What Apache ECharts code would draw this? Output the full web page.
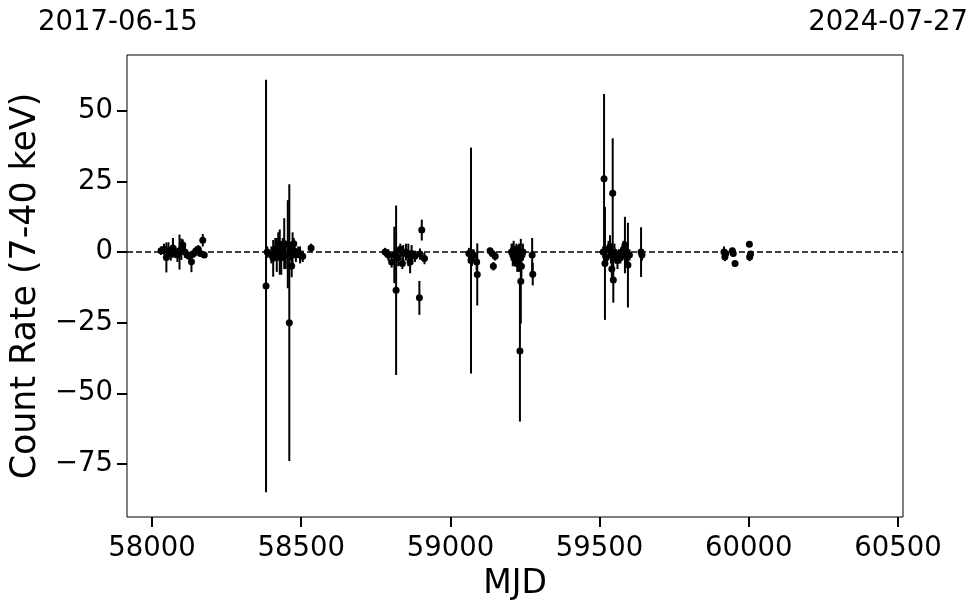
<!DOCTYPE html>
<html>
<head>
<meta charset="utf-8">
<script src="https://cdn.jsdelivr.net/npm/echarts@6/dist/echarts.min.js"></script>
<style>html,body{margin:0;padding:0;background:#fff}#c{width:980px;height:613px}</style>
</head>
<body>
<div id="c"></div>
<script>
// MJD of each observation
const mjd = [
  58030,58040,58048,58055,58063,58070,58078,58085,58092,58098,58103,58110,58118,58126,58132,58140,58147,58155,58162,58170,58175,
  58382,58386,58400,58406,58413,58418,58423,58428,58433,58438,58443,58448,58455,58460,58464,58468,58471,58475,58482,58490,58496,58505,58533,
  58781,58792,58803,58812,58818,58825,58832,58839,58842,58851,58859,58865,58870,58881,58896,58898,58904,58913,
  59062,59069,59072,59078,59088,59090,59133,59140,59144,59150,59205,59209,59212,59215,59218,59221,59224,59227,59230,59233,59236,59238,59240,59243,59274,59276,
  59512,59515,59518,59522,59530,59535,59538,59541,59544,59546,59550,59555,59560,59565,59570,59575,59580,59585,59590,59595,59600,59639,59642,
  59917,59920,59923,59945,59948,59954,60002,60003,60006
];
// count rate (7-40 keV)
const rate = [
  0.5,1.0,-1.9,0.5,-0.5,1.5,0,-1.0,0,1.0,2.5,0,-1,-1.5,-3.4,-0.5,0.5,1.0,-0.5,4.2,-1,
  -12,0,-1,-2.2,1,-1,2,0,-2,1,3,-1,2.8,-25,0,-4.9,1,3,-1,0,-1,-1.5,1.5,
  0,-1,-3.5,-1,-13.5,-2,1,-4,-0.5,0,-1,-3.5,-0.5,-1.5,-16.2,-0.7,7.8,-2.3,
  -0.5,-3,-2,-1,-3.5,-7.9,0.5,-0.5,-5,-1.5,0,-1,1,-2,-3,-1,-4,0.5,-2,-35,-10.3,-5,-1,0,-1,-7.8,
  0,26,-4,-2,1,2,-1,-6,20.8,-9.9,0,-2,-3,-1,-2,0,1,2.5,-1,-4.6,-1,0,-1,
  0,-1.7,-0.5,0.5,-0.5,-4,2.8,-1.7,-0.7
];
// 1-sigma error on the rate
const rateErr = [
  1.5,2,5.3,3,2.5,3.5,2,2.5,6.2,3.8,2,2,1.5,1.5,3.7,1.5,1.5,1.5,1.0,2.2,1,
  73,2,3,6.5,4,6,5,8,6,4,9,5,15.6,49,3,4,6,2,2.5,2,3,2,1.5,
  1.5,2,2,10,30,3,2,2,3,3,4,4,3,2,6,2,3.7,2,
  2,40,3,2,3,11,1,1,1.5,1.5,3,4,3,3,2,4,3,2,5,25,15,4,2,3,6,4,
  2,30,20,2,3,4,3,4,19.5,8,3,2,3,2,2,2,3,10,3,15,2,8.8,2,
  2,1.5,1.5,1,1,1,1,1.5,1
];
const xTicks = [58000,58500,59000,59500,60000,60500];
const yTicks = [-75,-50,-25,0,25,50];
const topLabels = ['2017-06-15','2024-07-27'];

const FONT = 'DejaVu Sans';
const pts = mjd.map((m,i)=>[m, rate[i], rateErr[i]]);
const fmt = v => v < 0 ? '\u2212' + Math.abs(v) : String(v);

const chart = echarts.init(document.getElementById('c'), null, {renderer:'canvas'});
chart.setOption({
  animation:false,
  backgroundColor:'#fff',
  grid:{left:127,right:77,top:55,bottom:96,show:true,borderColor:'#000',borderWidth:1,backgroundColor:'transparent'},
  graphic:[
    {type:'text',left:38,top:9,style:{text:topLabels[0],font:'27.5px "DejaVu Sans"',fill:'#000'}},
    {type:'text',right:12,top:9,style:{text:topLabels[1],font:'27.5px "DejaVu Sans"',fill:'#000'}}
  ],
  xAxis:{
    type:'value',min:57916,max:60517,position:'bottom',
    name:'MJD',nameLocation:'middle',nameGap:49,
    nameTextStyle:{fontFamily:FONT,fontSize:33,color:'#000'},
    axisLine:{show:false,onZero:false},
    splitLine:{show:false},
    axisTick:{show:true,customValues:xTicks,length:10,lineStyle:{color:'#000',width:2}},
    axisLabel:{customValues:xTicks,fontFamily:FONT,fontSize:27.5,color:'#000',margin:18,formatter:v=>String(v)}
  },
  yAxis:{
    type:'value',min:-93.8,max:69.8,position:'left',
    name:'Count Rate (7-40 keV)',nameLocation:'middle',nameGap:84,
    nameTextStyle:{fontFamily:FONT,fontSize:34.8,color:'#000'},
    axisLine:{show:false,onZero:false},
    splitLine:{show:false},
    axisTick:{show:true,customValues:yTicks,length:10,lineStyle:{color:'#000',width:2}},
    axisLabel:{customValues:yTicks,fontFamily:FONT,fontSize:27.5,color:'#000',margin:14,formatter:fmt}
  },
  series:[
    {
      type:'line',data:[],silent:true,
      markLine:{silent:true,symbol:['none','none'],label:{show:false},
        lineStyle:{color:'#000',width:1.5,type:[6,3],opacity:1},data:[{yAxis:0}]},
      z:1
    },
    {
      type:'custom',data:pts,clip:true,z:2,
      renderItem:(params,api)=>{
        const x=api.value(0), y=api.value(1), e=api.value(2);
        const p1=api.coord([x,y+e]), p2=api.coord([x,y-e]);
        return {type:'line',shape:{x1:p1[0],y1:p1[1],x2:p2[0],y2:p2[1]},style:{stroke:'#000',lineWidth:2}};
      },
      encode:{x:0,y:1}
    },
    {
      type:'scatter',data:pts.map(p=>[p[0],p[1]]),symbol:'circle',symbolSize:7,
      itemStyle:{color:'#000',opacity:1},z:3
    }
  ]
});
</script>
</body>
</html>
